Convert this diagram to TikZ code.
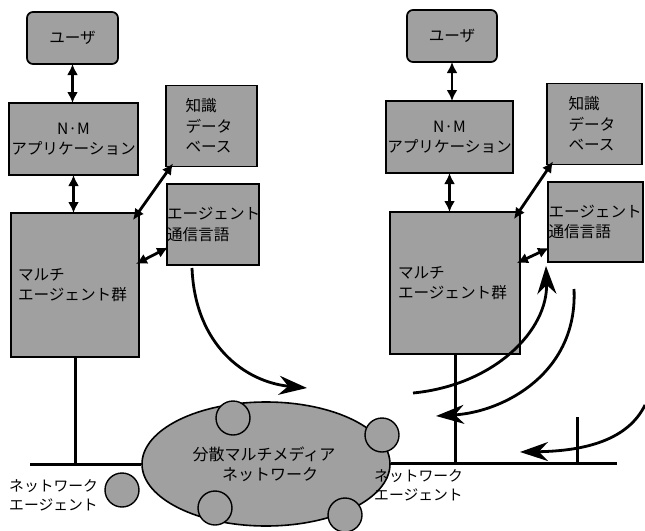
\documentclass[tikz,border=0pt]{standalone}
\usepackage{fontspec}
\usetikzlibrary{arrows.meta,shapes.geometric}
\newfontfamily\jpfont{Noto Sans CJK JP}
\definecolor{screen}{HTML}{A0A0A0}

\begin{document}
\begin{tikzpicture}[
  x=1pt, y=-1pt,
  font=\jpfont\fontsize{15.6}{20.5}\selectfont,
  box/.style={draw=black, fill=screen, line width=1.7pt,
              inner sep=1pt, outer sep=0pt, align=center},
  userbox/.style={box, rounded corners=6pt},
  ovalnet/.style={draw=black, fill=screen, line width=1.6pt,
                  ellipse, inner sep=0pt, align=center},
  agent/.style={draw=black, fill=screen, line width=1.4pt,
                circle, minimum size=34pt, inner sep=0pt},
  dbl/.style={{Latex[length=11pt,width=11pt]}-{Latex[length=11pt,width=11pt]},
              line width=2.8pt},
  bus/.style={line width=3pt},
  msg/.style={-{Stealth[length=28pt,width=19pt]}, line width=2.8pt},
  lab/.style={font=\jpfont\fontsize{14.8}{19}\selectfont, align=left,
              inner sep=0pt},
]
\useasboundingbox (0,0) rectangle (645,530);

% left station
\node[userbox, minimum width=91pt, minimum height=52pt] (userL) at (72.5,38) {ユーザ};
\node[box, minimum width=129pt, minimum height=72pt] (appL) at (73.5,139)
  {N·M\\アプリケーション};
\node[box, minimum width=128pt, minimum height=144pt, text width=114pt,
      align=left] (multiL) at (75,285) {マルチ\\エージェント群};
\node[box, minimum width=91pt, minimum height=81pt, text width=52pt,
      align=left] (kdbL) at (211.5,126) {知識\\データ\\ベース};
\node[box, minimum width=92pt, minimum height=81pt, text width=92pt,
      align=left, inner xsep=0pt] (aclL) at (213,224.5)
  {エージェント\\通信言語};

% right station
\node[userbox, minimum width=90pt, minimum height=52pt] (userR) at (452,36) {ユーザ};
\node[box, minimum width=121pt, minimum height=72pt] (appR) at (449.5,137)
  {N·M\\アプリケーション};
\node[box, minimum width=130pt, minimum height=142pt, text width=114pt,
      align=left] (multiR) at (455,283) {マルチ\\エージェント群};
\node[box, minimum width=95pt, minimum height=81pt, text width=52pt,
      align=left] (kdbR) at (594.5,124) {知識\\データ\\ベース};
\node[box, minimum width=95pt, minimum height=80pt, text width=94pt,
      align=left, inner xsep=0pt] (aclR) at (595.5,222)
  {エージェント\\通信言語};

% network
\node[ovalnet, minimum width=248pt, minimum height=124pt,
      font=\jpfont\fontsize{16}{20}\selectfont] (net) at (266,464)
  {\hspace*{-4pt}分散マルチメディア\\\hspace*{8pt}ネットワーク};
\node[agent] (a1) at (233,418) {};
\node[agent] (a2) at (382,435) {};
\node[agent] (a3) at (215,508) {};
\node[agent] (a4) at (345,515) {};
\node[agent] (a5) at (122,490) {};

\node[lab, anchor=west] (naL) at (9,495) {ネットワーク\\エージェント};
\node[lab, anchor=west] (naR) at (374,485) {ネットワーク\\エージェント};

\coordinate (busL) at (30,464);
\coordinate (busR) at (617,463);
\coordinate (tick) at (577,417);

\draw[bus] (busL) -- (net.west);
\draw[bus] (net.east |- busR) -- (busR);
\draw[bus] (multiL.south) -- (multiL.south |- busL);
\draw[bus] (multiR.south) -- (multiR.south |- busR);
\draw[bus] (tick) -- (tick |- busR);

% local links
\draw[dbl] (userL.south) -- (appL.north -| userL.south);
\draw[dbl] (appL.south) -- (multiL.north -| appL.south);
\draw[dbl] ([xshift=-6pt,yshift=-7pt]multiL.north east)
  -- ([xshift=7pt,yshift=3pt]kdbL.south west);
\draw[dbl] ([xshift=-3pt,yshift=21pt]multiL.east)
  -- ([xshift=1pt,yshift=-23pt]aclL.west);

\draw[dbl] (userR.south) -- (appR.north -| userR.south);
\draw[dbl] (appR.south) -- (multiR.north -| appR.south);
\draw[dbl] ([xshift=-6pt,yshift=-7pt]multiR.north east)
  -- ([xshift=6pt,yshift=3pt]kdbR.south west);
\draw[dbl] ([xshift=-3pt,yshift=20pt]multiR.east)
  -- ([xshift=1pt,yshift=-26pt]aclR.west);

% messages
\coordinate (m1) at (192,268);
\coordinate (m2) at (413,393);
\coordinate (m3) at (574,289);
\coordinate (m4) at (645,405);
\draw[msg] (m1) .. controls (195,345) and (245,382) .. (307,388);
\draw[msg] (m2) .. controls (495,385) and (548,330) .. ([xshift=-2pt,yshift=-4pt]aclR.south west);
\draw[msg] (m3) .. controls (578,372) and (505,412) .. (436,416);
\draw[msg] (m4) .. controls (628,440) and (585,451) .. (520,452);
\end{tikzpicture}
\end{document}
